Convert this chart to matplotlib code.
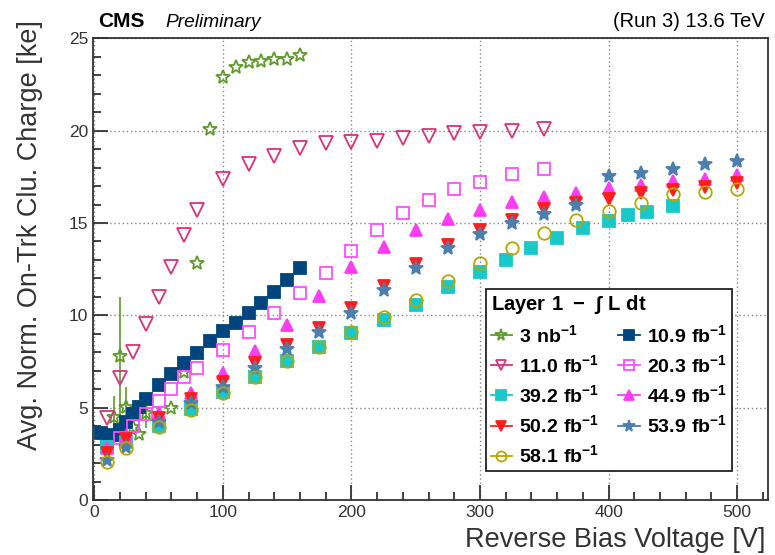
import matplotlib
matplotlib.use('Agg')
import matplotlib.pyplot as plt
from matplotlib.lines import Line2D
from matplotlib.ticker import MultipleLocator

plt.rcParams['font.family'] = ['Liberation Sans', 'DejaVu Sans']
plt.rcParams['mathtext.fontset'] = 'custom'
plt.rcParams['mathtext.rm'] = 'Liberation Sans'
plt.rcParams['mathtext.bf'] = 'Liberation Sans:bold'

# 3 nb-1
v_3nb = [15, 20, 25, 30, 35, 40, 60, 70, 80, 90, 100, 110, 120, 130, 140, 150, 160]
q_3nb = [4.5, 7.8, 5.05, 3.97, 3.6, 4.7, 4.96, 6.95, 12.86, 20.07, 22.9, 23.46,
         23.73, 23.75, 23.86, 23.88, 24.1]
e_3nb = [1.15, 3.2, 1.05, 0, 0, 0.8, 0, 0, 0, 0, 0, 0, 0, 0, 0, 0, 0]

# 10.9 fb-1
v_109 = [5, 10, 15, 20, 25, 30, 35, 40, 50, 60, 70, 80, 90, 100, 110, 120, 130, 140, 150, 160]
q_109 = [3.65, 3.32, 3.5, 3.79, 4.24, 4.64, 5.05, 5.47, 6.23, 6.82, 7.43, 7.98, 8.63,
         9.17, 9.6, 10.14, 10.65, 11.25, 11.91, 12.54]

# 11.0 fb-1
v_110 = [10, 20, 30, 40, 50, 60, 70, 80, 100, 120, 140, 160, 180, 200, 220, 240, 260,
         280, 300, 325, 350]
q_110 = [4.42, 6.62, 8.03, 9.53, 11.0, 12.6, 14.35, 15.7, 17.4, 18.17, 18.62, 19.04,
         19.31, 19.4, 19.45, 19.62, 19.71, 19.89, 19.94, 19.99, 20.09]

# 20.3 fb-1
v_203 = [10, 20, 30, 40, 50, 60, 70, 80, 100, 120, 140, 160, 180, 200, 220, 240, 260,
         280, 300, 325, 350]
q_203 = [2.89, 3.34, 4.0, 4.66, 5.38, 6.01, 6.68, 7.16, 8.12, 9.11, 10.14, 11.22,
         12.27, 13.5, 14.62, 15.52, 16.24, 16.82, 17.23, 17.63, 17.92]

# 39.2 fb-1
v_392 = [10, 25, 50, 75, 100, 125, 150, 175, 200, 225, 250, 275, 300, 320, 340, 360,
         380, 400, 415, 430, 450]
q_392 = [2.85, 3.16, 4.02, 4.93, 5.87, 6.68, 7.53, 8.27, 9.06, 9.75, 10.56, 11.52,
         12.36, 13.0, 13.66, 14.2, 14.71, 15.12, 15.43, 15.61, 15.93]

# 44.9 fb-1
v_449 = [10, 25, 50, 75, 100, 125, 150, 175, 200, 225, 250, 275, 300, 325, 350, 375,
         400, 425, 450, 475, 500]
q_449 = [2.8, 3.48, 4.73, 5.78, 6.89, 8.08, 9.47, 11.04, 12.6, 13.71, 14.62, 15.21,
         15.7, 16.12, 16.42, 16.64, 16.91, 17.05, 17.27, 17.36, 17.6]

# 50.2 fb-1
v_502 = [10, 25, 50, 75, 100, 125, 150, 175, 200, 225, 250, 275, 300, 325, 350, 375,
         400, 425, 450, 475, 500]
q_502 = [2.53, 3.29, 4.42, 5.45, 6.4, 7.4, 8.39, 9.3, 10.38, 11.59, 12.76, 13.81,
         14.62, 15.16, 15.74, 16.1, 16.28, 16.6, 16.78, 16.96, 17.15]

# 53.9 fb-1
v_539 = [10, 25, 50, 75, 100, 125, 150, 175, 200, 225, 250, 275, 300, 325, 350, 375,
         400, 425, 450, 475, 500]
q_539 = [2.17, 2.85, 4.24, 5.23, 6.13, 7.13, 8.16, 9.11, 10.11, 11.37, 12.54, 13.63,
         14.4, 14.98, 15.48, 15.97, 17.54, 17.72, 17.92, 18.19, 18.37]

# 58.1 fb-1
v_581 = [10, 25, 50, 75, 100, 125, 150, 175, 200, 225, 250, 275, 300, 325, 350, 375,
         400, 425, 450, 475, 500]
q_581 = [2.07, 2.8, 3.97, 4.87, 5.81, 6.68, 7.53, 8.27, 9.11, 9.93, 10.83, 11.86,
         12.81, 13.63, 14.44, 15.16, 15.65, 16.06, 16.55, 16.69, 16.82]

labels = [r'$\mathbf{3\ nb^{-1}}$', r'$\mathbf{10.9\ fb^{-1}}$', r'$\mathbf{11.0\ fb^{-1}}$',
          r'$\mathbf{20.3\ fb^{-1}}$', r'$\mathbf{39.2\ fb^{-1}}$', r'$\mathbf{44.9\ fb^{-1}}$',
          r'$\mathbf{50.2\ fb^{-1}}$', r'$\mathbf{53.9\ fb^{-1}}$', r'$\mathbf{58.1\ fb^{-1}}$']

fig = plt.figure(figsize=(7.75, 5.55), dpi=100)
ax = fig.add_axes([0.12, 0.099, 0.871, 0.832])

# (x, y, color, marker, filled, size)
series = [
    (v_3nb, q_3nb, '#5f9a2c', '*', False, 10.5),
    (v_109, q_109, '#00457e', 's', True, 8.5),
    (v_110, q_110, '#d8337a', 'v', False, 9.5),
    (v_203, q_203, '#ff4cff', 's', False, 9),
    (v_392, q_392, '#19c8c8', 's', True, 8.5),
    (v_449, q_449, '#ff3cf5', '^', True, 8.5),
    (v_502, q_502, '#ff1e1e', 'v', True, 8.5),
    (v_539, q_539, '#4a7fae', '*', True, 10.5),
    (v_581, q_581, '#b5a800', 'o', False, 9),
]

handles = []
for i, (x, y, c, m, filled, ms) in enumerate(series):
    fc = c if filled else 'none'
    if i == 0:
        ax.errorbar(x, y, yerr=e_3nb, fmt='none', ecolor=c, elinewidth=1.2, zorder=2)
    ax.plot(x, y, linestyle='none', marker=m, markersize=ms, markerfacecolor=fc,
            markeredgecolor=c, markeredgewidth=1.3, zorder=3 + i)
    handles.append(Line2D([], [], color=c, lw=1.3, marker=m, markersize=ms * 0.8,
                          markerfacecolor=fc, markeredgecolor=c, markeredgewidth=1.3))

ax.set_xlim(-1, 524)
ax.set_ylim(0, 25)
ax.xaxis.set_major_locator(MultipleLocator(100))
ax.xaxis.set_minor_locator(MultipleLocator(20))
ax.yaxis.set_major_locator(MultipleLocator(5))
ax.yaxis.set_minor_locator(MultipleLocator(1))
ax.tick_params(which='both', direction='in', top=False, right=False, labelsize=12.5,
               colors='#333333', width=1.3)
ax.tick_params(which='major', length=11)
ax.tick_params(which='minor', length=6)
ax.grid(True, which='major', color='#888888', linestyle=(0, (1, 2)), linewidth=1.0)
for s in ax.spines.values():
    s.set_linewidth(1.3)
    s.set_color('#333333')

ax.set_xlabel('Reverse Bias Voltage [V]', fontsize=19.5, color='#333333', ha='right')
ax.xaxis.set_label_coords(0.996, -0.058)
ax.set_ylabel('Avg. Norm. On-Trk Clu. Charge [ke]', fontsize=19.5, color='#333333', ha='right')
ax.yaxis.set_label_coords(-0.074, 1.04)

fig.text(98 / 775, 1 - 27 / 555, 'CMS', fontsize=15, fontweight='bold', va='baseline')
fig.text(165 / 775, 1 - 27 / 555, 'Preliminary', fontsize=13.8, style='italic', va='baseline')
fig.text(765 / 775, 1 - 27 / 555, '(Run 3) 13.6 TeV', fontsize=14.5, ha='right', va='baseline')

order = [0, 2, 4, 6, 8, 1, 3, 5, 7]
leg = ax.legend([handles[i] for i in order], [labels[i] for i in order], ncol=2,
                loc='upper left', bbox_to_anchor=(0.582, 0.457), borderaxespad=0,
                title=r'$\mathbf{Layer\ 1\ -\ \int\ L\ dt}$', title_fontsize=14.5,
                fontsize=14, fancybox=False, edgecolor='#222222', framealpha=1,
                handlelength=1.1, handletextpad=0.35, columnspacing=1.0,
                labelspacing=0.42, borderpad=0.25, alignment='left')
leg.get_frame().set_linewidth(1.3)
leg.set_zorder(20)

fig.savefig('out.png', dpi=100)
